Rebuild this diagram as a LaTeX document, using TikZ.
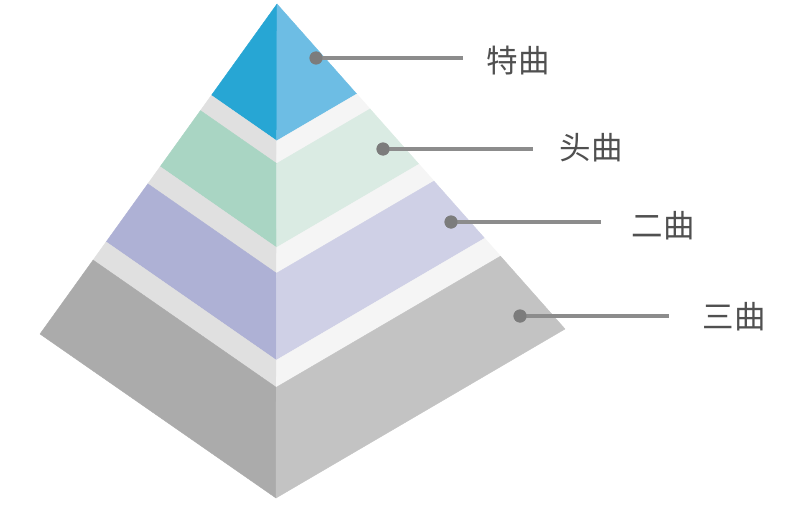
\documentclass[tikz,border=0pt]{standalone}
\usepackage{fontspec}
\newfontfamily\cjk{Noto Sans CJK SC}
\usetikzlibrary{calc}
\definecolor{blueL}{HTML}{27A6D4}
\definecolor{blueR}{HTML}{6DBDE4}
\definecolor{mintL}{HTML}{A9D5C3}
\definecolor{mintR}{HTML}{DAEBE3}
\definecolor{lavL}{HTML}{AEB1D5}
\definecolor{lavR}{HTML}{CFD0E6}
\definecolor{greyL}{HTML}{ABABAB}
\definecolor{greyR}{HTML}{C3C3C3}
\definecolor{bandL}{HTML}{E0E0E0}
\definecolor{bandR}{HTML}{F5F5F5}
\definecolor{dotc}{HTML}{7C7C7C}
\definecolor{linec}{HTML}{8C8C8C}
\definecolor{txtc}{HTML}{505050}
\newcommand\tierfaces[4]{%
  \filldraw[fill=#3,draw=#3,line width=0.4pt,line join=round] ($(A)!#1!(L)$) -- ($(A)!#1!(F)$) -- ($(A)!#2!(F)$) -- ($(A)!#2!(L)$) -- cycle;
  \filldraw[fill=#4,draw=#4,line width=0.4pt,line join=round] ($(A)!#1!(F)$) -- ($(A)!#1!(R)$) -- ($(A)!#2!(R)$) -- ($(A)!#2!(F)$) -- cycle;}
\tikzset{
  dot/.style={circle,fill=dotc,inner sep=0pt,minimum size=13pt},
  leader/.style={draw=linec,line width=3.3pt},
  lbl/.style={text=txtc,font=\cjk\fontsize{31.5}{38}\selectfont,inner sep=0pt}
}
\begin{document}
\begin{tikzpicture}[x=1pt,y=-1pt]
\useasboundingbox (0,0) rectangle (794,508);
\fill[white] (0,0) rectangle (794,508);
\coordinate (A) at (277,4);
\coordinate (L) at (40,334);
\coordinate (F) at (276,498);
\coordinate (R) at (565,329);
% tiers
\tierfaces{0}{0.277}{blueL}{blueR}
\tierfaces{0.277}{0.323}{bandL}{bandR}
\tierfaces{0.323}{0.493}{mintL}{mintR}
\tierfaces{0.493}{0.545}{bandL}{bandR}
\tierfaces{0.545}{0.721}{lavL}{lavR}
\tierfaces{0.721}{0.776}{bandL}{bandR}
\tierfaces{0.776}{1}{greyL}{greyR}
% leaders
\coordinate (e1) at (463,58);
\coordinate (e2) at (533,149);
\coordinate (e3) at (601,222);
\coordinate (e4) at (669,316);
\node[dot] (d1) at (316,58) {};
\node[dot] (d2) at (383,149) {};
\node[dot] (d3) at (451,222) {};
\node[dot] (d4) at (520,316) {};
\draw[leader] (d1.center) -- (e1);
\draw[leader] (d2.center) -- (e2);
\draw[leader] (d3.center) -- (e3);
\draw[leader] (d4.center) -- (e4);
\node[dot] at (d1) {};
\node[dot] at (d2) {};
\node[dot] at (d3) {};
\node[dot] at (d4) {};
\node[lbl] (t1) at (518,61) {特曲};
\node[lbl] (t2) at (591,148) {头曲};
\node[lbl] (t3) at (663,226) {二曲};
\node[lbl] (t4) at (734,317) {三曲};
\end{tikzpicture}
\end{document}
